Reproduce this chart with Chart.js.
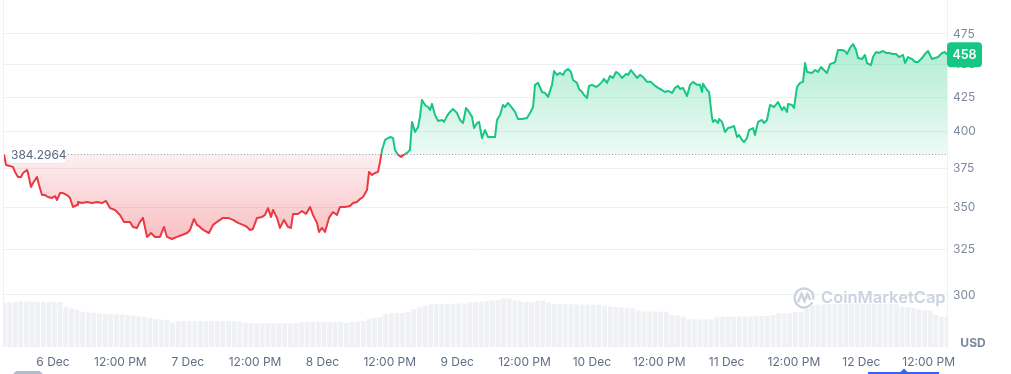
<!DOCTYPE html>
<html>
<head>
<meta charset="utf-8">
<script src="https://cdn.jsdelivr.net/npm/chart.js@4.4.1/dist/chart.umd.min.js"></script>
<style>
  html, body { margin: 0; padding: 0; background: #fff; }
  #wrap { width: 1011px; height: 374px; }
</style>
</head>
<body>
<div id="wrap"><canvas id="priceChart"></canvas></div>
<script>
// hours since the window start (5 Dec ~15:15)
const hours = [
  0, 0.36, 1.60, 1.96, 2.49, 3.03, 3.39, 4.10, 4.28, 4.81, 5.17, 5.88, 6.24, 6.77, 7.30, 7.84, 8.55, 9.09, 9.44, 9.98,
  10.51, 11.22, 11.76, 12.29, 13.01, 13.18, 13.90, 14.79, 15.68, 16.57, 17.46, 18.17, 18.88, 19.78, 20.67, 21.38, 22.45, 22.98, 23.70, 24.23,
  24.76, 25.48, 26.19, 26.90, 27.79, 28.51, 29.04, 29.93, 30.82, 31.71, 32.60, 33.14, 33.85, 34.38, 34.92, 35.28, 35.81, 36.52, 37.24, 37.95,
  38.48, 39.02, 39.91, 40.80, 41.69, 42.58, 43.29, 43.83, 44.36, 45.07, 45.97, 46.50, 47.03, 47.57, 47.93, 48.64, 49.17, 49.88, 50.60, 51.13,
  51.49, 52.38, 53.09, 53.80, 54.52, 55.05, 55.76, 56.12, 56.65, 57.19, 57.90, 58.61, 59.33, 59.86, 60.75, 61.64, 62.18, 62.89, 63.42, 63.96,
  64.67, 65.03, 65.56, 66.10, 66.63, 66.99, 67.34, 67.52, 67.88, 68.41, 68.95, 69.30, 69.66, 70.20, 70.73, 71.09, 71.80, 72.33, 72.69, 73.22,
  73.76, 74.11, 74.47, 75.01, 75.54, 75.90, 76.25, 76.79, 77.32, 78.04, 78.39, 78.93, 79.46, 79.99, 80.71, 81.24, 81.78, 82.31, 82.84, 83.38,
  83.74, 84.27, 84.63, 85.16, 85.69, 86.23, 86.94, 87.48, 87.83, 88.37, 88.90, 89.26, 89.79, 90.51, 91.04, 91.57, 92.29, 93.18, 93.71, 94.25,
  94.60, 95.14, 95.85, 96.38, 96.92, 97.63, 97.99, 98.52, 99.06, 99.59, 99.95, 100.48, 101.02, 101.37, 102.08, 102.44, 102.98, 103.33, 103.87, 104.22,
  104.76, 105.47, 105.83, 106.54, 106.90, 107.43, 107.96, 108.50, 109.03, 109.57, 110.10, 110.82, 111.17, 111.71, 112.06, 112.78, 113.31, 113.84, 114.56, 115.27,
  115.80, 116.52, 117.23, 117.76, 118.30, 119.01, 119.55, 120.08, 120.44, 120.97, 121.68, 122.22, 122.75, 123.47, 124.00, 124.36, 124.54, 125.25, 125.61, 126.14,
  126.32, 126.67, 127.21, 127.39, 127.92, 128.45, 128.99, 129.70, 130.06, 130.59, 130.95, 131.48, 131.84, 132.37, 132.73, 133.44, 133.80, 134.33, 135.04, 135.40,
  135.93, 136.47, 137.18, 137.89, 138.61, 138.96, 139.50, 139.68, 140.39, 140.75, 141.28, 141.81, 142.35, 142.71, 143.06, 143.95, 144.49, 145.02, 145.56, 146.09,
  146.62, 147.16, 147.69, 148.05, 148.58, 149.30, 149.83, 150.19, 150.72, 151.26, 151.79, 152.15, 152.86, 153.39, 153.75, 154.46, 154.82, 155.36, 155.89, 156.60,
  157.14, 157.67, 158.38, 158.92, 159.45, 160.17, 160.52, 161.06, 161.77, 162.31, 162.84, 163.55, 164.09, 164.62, 165.33, 165.87, 166.40, 167.13, 167.65, 168.00
];
const prices = [
  384.2964, 377.2, 375.9, 372.6, 369.3, 369.3, 371.9, 373.9, 371.9, 362.8, 365.4, 369.3, 364.1, 357.7, 357.7, 356.5, 355.9, 357.1, 354.6, 359.0,
  359.0, 357.7, 355.9, 350.3, 351.5, 353.4, 352.7, 353.4, 352.7, 353.4, 352.7, 354.0, 349.6, 348.4, 345.4, 341.2, 341.2, 338.2, 337.6, 341.2,
  343.6, 332.3, 334.6, 332.3, 332.3, 338.2, 332.3, 331.1, 332.3, 333.4, 334.6, 336.4, 343.0, 339.4, 338.2, 337.0, 335.8, 334.6, 339.4, 341.2,
  342.4, 343.6, 343.6, 342.4, 340.6, 339.4, 338.2, 336.4, 337.0, 343.6, 344.2, 345.4, 349.6, 344.2, 348.4, 343.6, 337.6, 342.4, 338.2, 337.6,
  346.0, 346.0, 347.8, 346.0, 350.3, 345.4, 340.6, 335.2, 337.6, 335.2, 343.6, 347.2, 345.4, 350.3, 350.3, 350.9, 352.7, 353.4, 355.2, 356.5,
  360.9, 372.6, 370.6, 371.9, 372.6, 379.2, 387.3, 389.3, 394.1, 395.5, 396.2, 395.5, 387.3, 384.0, 382.6, 383.6, 385.3, 387.3, 406.9, 399.7,
  403.3, 410.5, 422.9, 419.2, 417.7, 415.5, 420.0, 411.9, 407.6, 408.3, 406.9, 411.2, 414.1, 416.2, 413.3, 408.3, 406.1, 417.0, 414.1, 410.5,
  402.5, 406.1, 406.9, 395.5, 401.1, 396.2, 396.2, 396.2, 408.3, 411.9, 419.2, 417.7, 420.7, 417.0, 414.1, 409.0, 409.0, 409.7, 413.3, 417.7,
  434.3, 435.8, 428.9, 428.2, 425.2, 434.3, 445.0, 442.0, 443.5, 442.0, 445.0, 446.6, 444.3, 438.1, 435.8, 431.2, 428.9, 426.7, 424.4, 433.5,
  434.3, 432.7, 433.5, 436.6, 438.9, 435.8, 441.2, 439.6, 444.3, 442.7, 439.6, 442.7, 442.0, 445.8, 443.5, 439.6, 442.0, 440.4, 436.6, 436.6,
  434.3, 432.0, 430.4, 428.9, 429.7, 428.2, 432.0, 433.5, 431.2, 432.0, 425.9, 434.3, 436.6, 434.3, 434.3, 428.9, 435.1, 430.4, 428.9, 409.7,
  406.9, 408.3, 406.1, 409.0, 406.9, 399.7, 402.5, 403.3, 404.0, 396.2, 397.6, 394.1, 392.7, 395.5, 401.1, 402.5, 397.6, 406.9, 408.3, 406.1,
  408.3, 419.2, 417.7, 421.4, 415.5, 417.7, 414.1, 420.0, 419.2, 417.0, 432.7, 435.8, 436.6, 451.3, 444.3, 443.5, 445.8, 444.3, 448.2, 445.8,
  443.5, 450.5, 451.3, 452.1, 461.8, 461.8, 461.0, 458.6, 463.5, 466.7, 461.8, 455.3, 454.5, 457.8, 451.3, 449.7, 456.1, 460.2, 459.4, 461.0,
  459.4, 459.4, 458.6, 458.6, 456.1, 457.8, 451.3, 456.1, 454.5, 452.1, 452.1, 455.3, 458.6, 461.0, 454.5, 455.3, 456.1, 459.4, 460.2, 458.0
];
// hourly volume, M USD
const volumes = [
  890, 895, 905, 910, 910, 908, 905, 905, 902, 900, 898, 806, 770, 740, 706, 694, 686, 674, 660, 655,
  652, 650, 640, 626, 614, 600, 580, 560, 546, 540, 486, 516, 518, 520, 520, 518, 520, 522, 520, 518,
  516, 514, 512, 486, 474, 476, 474, 474, 472, 474, 476, 474, 476, 496, 500, 500, 502, 500, 500, 498,
  500, 480, 500, 514, 520, 560, 580, 600, 660, 674, 680, 680, 700, 760, 790, 830, 850, 856, 860, 864,
  866, 870, 872, 890, 900, 906, 920, 930, 940, 974, 970, 930, 914, 900, 890, 926, 926, 890, 860, 858,
  856, 854, 852, 850, 850, 848, 846, 830, 806, 800, 790, 774, 770, 726, 712, 710, 710, 708, 706, 640,
  630, 606, 560, 552, 550, 550, 552, 600, 606, 608, 608, 610, 610, 612, 620, 620, 620, 640, 674, 674,
  674, 700, 706, 760, 840, 850, 856, 860, 864, 866, 866, 868, 870, 868, 866, 866, 864, 860, 860, 850,
  806, 800, 780, 754, 740, 726, 640, 606, 600
];
const basePrice = 384.2964;
const lastPrice = 458;
const yTicks = [300, 325, 350, 375, 400, 425, 450, 475];
const xTickLabels = ['6 Dec', '12:00 PM', '7 Dec', '12:00 PM', '8 Dec', '12:00 PM', '9 Dec',
  '12:00 PM', '10 Dec', '12:00 PM', '11 Dec', '12:00 PM', '12 Dec', '12:00 PM'];
const firstMidnight = 8.73; // hours from start to 6 Dec 00:00

const green = '#16c784';
const red = '#ea3943';
const gridColor = '#eef0f4';
const font = 'Inter';

const priceData = hours.map((h, i) => ({ x: h, y: prices[i] }));
const volumeData = volumes.map((v, i) => ({ x: i, y: v }));

function lineColor(ctx) {
  const chart = ctx.chart;
  const area = chart.chartArea;
  if (!area || !chart.scales.y) return green;
  const f = (chart.scales.y.getPixelForValue(basePrice) - area.top) / (area.bottom - area.top);
  const g = chart.ctx.createLinearGradient(0, area.top, 0, area.bottom);
  g.addColorStop(0, green);
  g.addColorStop(f, green);
  g.addColorStop(f, red);
  g.addColorStop(1, red);
  return g;
}

function fillOption(ctx) {
  const chart = ctx.chart;
  const y = chart.scales.y;
  if (!chart.chartArea || !y) {
    return { target: { value: basePrice }, above: 'rgba(22,199,132,0.2)', below: 'rgba(234,57,67,0.2)' };
  }
  const basePx = y.getPixelForValue(basePrice);
  const topPx = y.getPixelForValue(Math.max(...prices));
  const lowPx = y.getPixelForValue(Math.min(...prices));
  const up = chart.ctx.createLinearGradient(0, topPx, 0, basePx);
  up.addColorStop(0, 'rgba(22,199,132,0.34)');
  up.addColorStop(1, 'rgba(22,199,132,0.08)');
  const down = chart.ctx.createLinearGradient(0, basePx, 0, lowPx);
  down.addColorStop(0, 'rgba(234,57,67,0.08)');
  down.addColorStop(1, 'rgba(234,57,67,0.32)');
  return { target: { value: basePrice }, above: up, below: down };
}

// overlays: base line + label, last price badge, USD, watermark, cut-off navigator bits
const overlays = {
  id: 'overlays',
  beforeDatasetsDraw(chart) {
    const { ctx, chartArea } = chart;
    ctx.save();
    ctx.strokeStyle = gridColor;
    ctx.lineWidth = 1;
    ctx.beginPath();
    ctx.moveTo(chartArea.left - 0.5, chartArea.top);
    ctx.lineTo(chartArea.left - 0.5, chartArea.bottom);
    ctx.stroke();
    // watermark
    ctx.strokeStyle = '#ccd3df';
    ctx.lineWidth = 2.4;
    ctx.beginPath();
    ctx.arc(804, 298, 9.5, 0.15 * Math.PI, 2.05 * Math.PI);
    ctx.stroke();
    ctx.beginPath();
    ctx.moveTo(798, 302);
    ctx.lineTo(801.5, 294);
    ctx.lineTo(804.5, 301);
    ctx.lineTo(807.5, 294);
    ctx.lineTo(810.5, 300);
    ctx.stroke();
    ctx.fillStyle = '#ccd3df';
    ctx.font = '600 16.5px ' + font;
    ctx.textBaseline = 'middle';
    ctx.fillText('CoinMarketCap', 821, 298.5);
    ctx.restore();
  },
  afterDatasetsDraw(chart) {
    const { ctx, chartArea, scales } = chart;
    const by = Math.round(scales.y.getPixelForValue(basePrice)) + 0.5;
    ctx.save();
    ctx.strokeStyle = '#8f99ab';
    ctx.lineWidth = 1;
    ctx.setLineDash([1, 2.2]);
    ctx.beginPath();
    ctx.moveTo(68, by);
    ctx.lineTo(chartArea.right, by);
    ctx.stroke();
    ctx.setLineDash([]);
    ctx.fillStyle = '#ffffff';
    ctx.shadowColor = 'rgba(88,102,126,0.12)';
    ctx.shadowBlur = 2;
    ctx.beginPath();
    ctx.roundRect(8, by - 8.5, 58, 17, 4);
    ctx.fill();
    ctx.shadowBlur = 0;
    ctx.fillStyle = '#58667e';
    ctx.font = '12px ' + font;
    ctx.textBaseline = 'middle';
    ctx.fillText(basePrice.toString(), 11, by + 1);
    ctx.restore();
  },
  afterDraw(chart) {
    const { ctx, scales } = chart;
    const ly = scales.y.getPixelForValue(lastPrice);
    ctx.save();
    ctx.fillStyle = green;
    ctx.beginPath();
    ctx.roundRect(947, ly - 12.5, 35, 25, 4);
    ctx.fill();
    ctx.fillStyle = '#ffffff';
    ctx.font = '600 12.5px ' + font;
    ctx.textAlign = 'center';
    ctx.textBaseline = 'middle';
    ctx.fillText(String(lastPrice), 964.5, ly + 0.5);
    ctx.fillStyle = '#7b879b';
    ctx.font = 'bold 12px ' + font;
    ctx.fillText('USD', 973, 343.5);
    // bits of the range navigator cut off at the bottom
    ctx.fillStyle = '#b3bccc';
    ctx.beginPath();
    ctx.roundRect(13, 371, 30, 10, 5);
    ctx.fill();
    ctx.fillStyle = '#3861fb';
    ctx.fillRect(868, 372, 71, 2);
    ctx.beginPath();
    ctx.moveTo(900, 372.5);
    ctx.lineTo(904, 368.5);
    ctx.lineTo(908, 372.5);
    ctx.closePath();
    ctx.fill();
    ctx.restore();
  }
};

const priceCtx = document.getElementById('priceChart').getContext('2d');
const priceChart = new Chart(priceCtx, {
  type: 'line',
  data: {
    datasets: [
      {
        label: 'Price',
        data: priceData,
        borderColor: lineColor,
        borderWidth: 2,
        borderJoinStyle: 'round',
        pointRadius: 0,
        tension: 0,
        fill: fillOption,
        order: 0,
      },
      {
        type: 'bar',
        label: 'Volume',
        data: volumeData,
        yAxisID: 'yv',
        backgroundColor: '#eff1f5',
        barPercentage: 0.85,
        categoryPercentage: 1,
        order: 1,
      },
    ],
  },
  options: {
    responsive: true,
    maintainAspectRatio: false,
    animation: false,
    layout: { padding: { left: 4, top: 0, right: 0, bottom: 0 } },
    plugins: {
      legend: { display: false },
      tooltip: { enabled: false },
    },
    scales: {
      x: {
        type: 'linear',
        min: 0,
        max: 168,
        offset: false,
        grid: { display: false, offset: false },
        border: { display: false },
        afterBuildTicks: (scale) => {
          scale.ticks = xTickLabels.map((_, i) => ({ value: firstMidnight + 12 * i }));
        },
        afterFit: (scale) => {
          scale.height = 27;
          scale.paddingLeft = 0;
          scale.paddingRight = 0;
        },
        ticks: {
          autoSkip: false,
          maxRotation: 0,
          padding: 0,
          color: '#616e85',
          font: { family: font, size: 12 },
          callback: (value, index) => xTickLabels[index],
        },
      },
      y: {
        type: 'logarithmic',
        position: 'right',
        min: 273.75,
        max: 504.3,
        grid: { color: gridColor, drawTicks: false },
        border: { display: true, color: gridColor },
        afterBuildTicks: (scale) => {
          scale.ticks = yTicks.map((v) => ({ value: v }));
        },
        afterFit: (scale) => {
          scale.width = 64;
          scale.paddingTop = 0;
          scale.paddingBottom = 0;
        },
        ticks: {
          padding: 6,
          color: '#808a9d',
          font: { family: font, size: 12 },
          callback: (value) => String(value),
        },
      },
      yv: {
        type: 'linear',
        display: false,
        min: 0,
        max: 6940,
      },
    },
  },
  plugins: [overlays],
});
</script>
</body>
</html>
